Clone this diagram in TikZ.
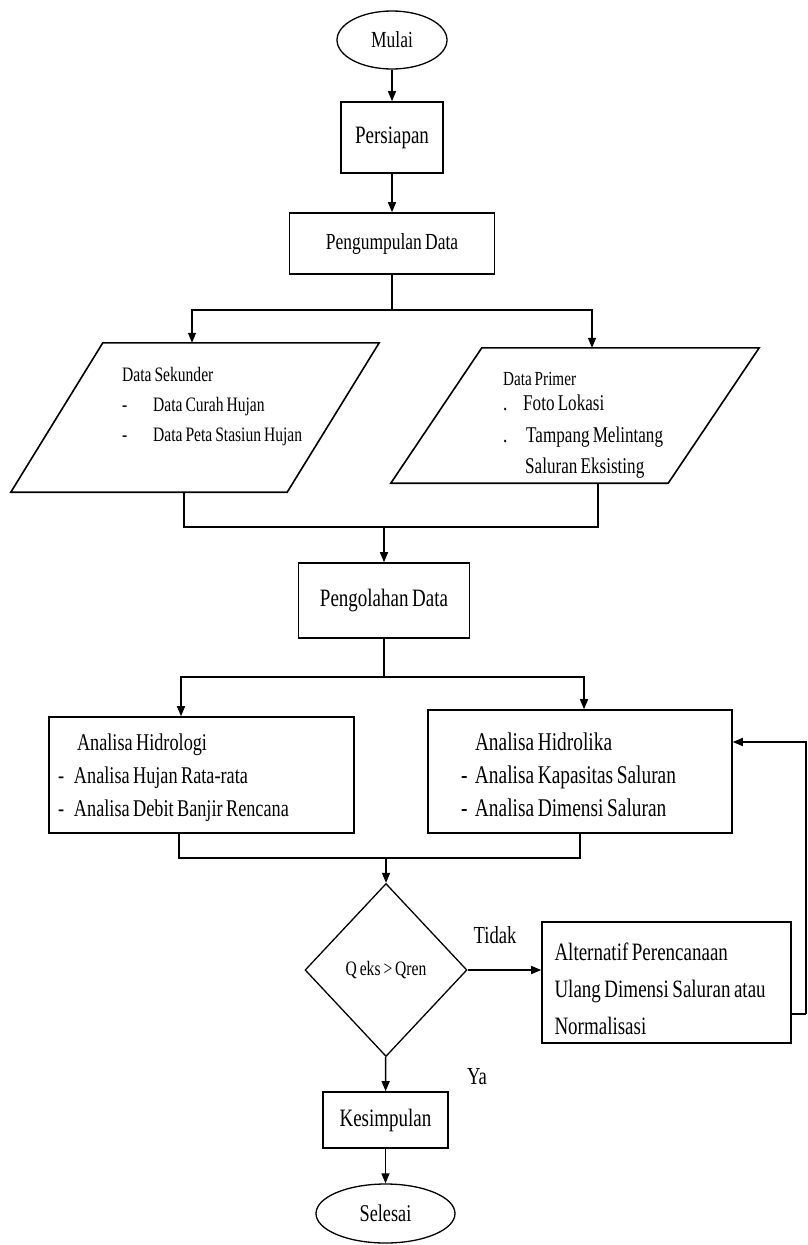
\documentclass[tikz,border=0pt]{standalone}
\usepackage{fontspec}
\setmainfont[FakeStretch=0.76, WordSpace=0.75]{Liberation Serif}
\usetikzlibrary{shapes.geometric, arrows.meta}
\newcommand{\huruf}[2]{\fontsize{#1}{#2}\selectfont}
\newcommand{\rapat}{\spaceskip=0pt\xspaceskip=0pt\relax}
% parallelogram around an empty node: name, half slant
\newcommand{\jajargenjang}[2]{%
  \draw[garisdata] ([xshift=#2]#1.north west) -- ([xshift=#2]#1.north east)
    -- ([xshift=-#2]#1.south east) -- ([xshift=-#2]#1.south west) -- cycle;}
\tikzset{
    proses/.style={rectangle, draw=black, line width=1.6pt, inner sep=0pt},
    terminal/.style={ellipse, draw=black, line width=1.3pt, inner sep=0pt},
    data/.style={rectangle, inner sep=0pt},
    garisdata/.style={line width=1.6pt, line join=miter},
    keputusan/.style={diamond, draw=black, line width=1.3pt, inner sep=0pt},
    teks/.style={inner sep=0pt, anchor=west, align=left},
    arrow/.style={-{Triangle[length=10pt, width=8pt]}, line width=1.5pt},
    garis/.style={line width=1.5pt}
}
\begin{document}
\begin{tikzpicture}[x=1pt, y=-1pt]
\useasboundingbox (0,0) rectangle (808,1245);

% Start and preparation
\node (mulai) [terminal, minimum width=110pt, minimum height=58pt, font=\huruf{23}{27}] at (392,40) {Mulai};
\node (siap) [proses, minimum width=102pt, minimum height=71pt, font=\huruf{25}{29}] at (392,137.5) {Persiapan};
\node (kumpul) [proses, minimum width=205pt, minimum height=61pt, font=\huruf{23}{27}] at (392,243.5) {Pengumpulan Data};

% Data input
\node (sekunder) [data, minimum width=276pt, minimum height=149pt] at (195,417.5) {};
\jajargenjang{sekunder}{46pt}
\node (sekunder-isi) [teks, font=\huruf{20.5}{30}] at (122,407) {\rapat Data Sekunder\\\makebox[31pt][l]{-}Data Curah Hujan\\\makebox[31pt][l]{-}Data Peta Stasiun Hujan};
\node (primer) [data, minimum width=277pt, minimum height=135pt] at (575,415.5) {};
\jajargenjang{primer}{45.5pt}
\node (primer-judul) [teks, font=\huruf{20}{24}] at (503,379) {\rapat Data Primer};
\node (primer-isi) [teks, font=\huruf{22.5}{31.5}] at (503,437) {\rapat\makebox[20pt][l]{.}Foto Lokasi\\\makebox[23pt][l]{.}Tampang Melintang\\\makebox[22pt][l]{}Saluran Eksisting};

% Processing
\node (olah) [proses, minimum width=171pt, minimum height=75pt, font=\huruf{25}{29}] at (384,600.5) {Pengolahan Data};

% Analysis
\node (hidrologi) [proses, text width=287pt, inner xsep=9pt, minimum height=116pt, align=left, font=\huruf{24}{33}] at (201.5,775) {\rapat\rule{0pt}{22.5pt}\hspace*{19pt}Analisa Hidrologi\\\makebox[16pt][l]{-}Analisa Hujan Rata-rata\\\makebox[16pt][l]{-}Analisa Debit Banjir Rencana};
\node (hidrolika) [proses, text width=238pt, inner xsep=33pt, minimum height=123pt, align=left, font=\huruf{25.5}{33}] at (580,771.5) {\rapat\rule{0pt}{24pt}\hspace*{14pt}Analisa Hidrolika\\\makebox[14pt][l]{-}Analisa Kapasitas Saluran\\\makebox[14pt][l]{-}Analisa Dimensi Saluran};

% Check
\node (cek) [keputusan, minimum width=162pt, minimum height=173pt, font=\huruf{20.5}{24}] at (386,970) {Q eks > Qren};
\node (alternatif) [proses, text width=238pt, inner xsep=5.5pt, minimum height=121pt, align=left, font=\huruf{25}{37}] at (666.5,982.5) {\rapat\rule{0pt}{29.5pt}\hspace*{7pt}Alternatif Perencanaan\\\hspace*{7pt}Ulang Dimensi Saluran atau\\\hspace*{7pt}Normalisasi};
\node (simpul) [proses, minimum width=125pt, minimum height=56pt, font=\huruf{25}{29}] at (385.5,1120) {Kesimpulan};
\node (selesai) [terminal, minimum width=139pt, minimum height=59pt, font=\huruf{24}{28}] at (385.5,1213.5) {Selesai};

% Junctions
\coordinate (cabang1) at (392,310);
\coordinate (gabung1) at (384,527);
\coordinate (cabang2) at (384,677);
\coordinate (gabung2) at (386,858);
\coordinate (balik) at (806,1014);

% Arrows
\draw[arrow] (mulai) -- (siap);
\draw[arrow] (siap) -- (kumpul);
\draw[garis] (kumpul.south) -- (cabang1);
\draw[arrow] (cabang1) -| ([xshift=-3pt]sekunder.north);
\draw[arrow] (cabang1) -| ([xshift=17pt]primer.north);
\draw[garis] ([xshift=-11pt]sekunder.south) |- (gabung1);
\draw[garis] ([xshift=23pt]primer.south) |- (gabung1);
\draw[arrow] (gabung1) -- (olah);
\draw[garis] (olah.south) -- (cabang2);
\draw[arrow] (cabang2) -| ([xshift=-20.5pt]hidrologi.north);
\draw[arrow] (cabang2) -| ([xshift=4pt]hidrolika.north);
\draw[garis] ([xshift=-22.5pt]hidrologi.south) |- (gabung2);
\draw[garis] (hidrolika.south) |- (gabung2);
\draw[arrow] (gabung2) -- (cek);
\draw[arrow] (cek.east) -- (cek.east -| alternatif.west);
\draw[garis] ([yshift=-31.5pt]alternatif.east) -- (balik);
\draw[arrow] (balik) |- ([yshift=29.5pt]hidrolika.east);
\draw[arrow] (cek) -- (simpul);
\draw[arrow] (simpul) -- (selesai);

% Labels
\node (tidak) [font=\huruf{24.5}{28}, inner sep=0pt] at (495,935) {Tidak};
\node (ya) [font=\huruf{24.5}{28}, inner sep=0pt] at (477,1077) {Ya};

\end{tikzpicture}
\end{document}
